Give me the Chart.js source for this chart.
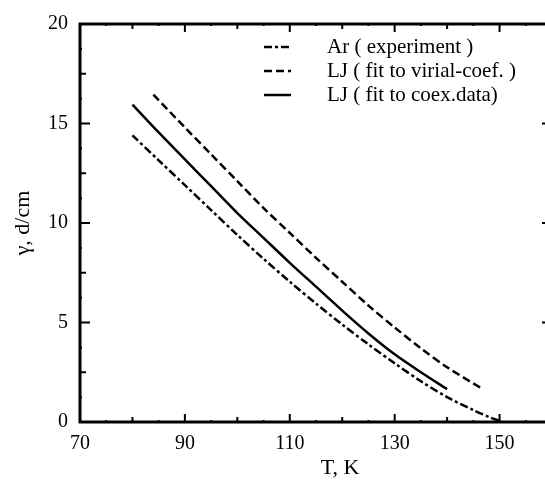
<!DOCTYPE html>
<html>
<head>
<meta charset="utf-8">
<title>Surface tension of argon</title>
<script src="https://cdn.jsdelivr.net/npm/chart.js@4/dist/chart.umd.min.js"></script>
<style>
    html, body { margin: 0; padding: 0; background: #fff; overflow: hidden; }
    #wrap { width: 560px; height: 485px; }
</style>
</head>
<body>
<div id="wrap"><canvas id="tensionChart" width="560" height="485"></canvas></div>
<script>
// ===========================
// Data
// ===========================

const xTickValues = [70, 90, 110, 130, 150];
const yTickValues = [0, 5, 10, 15, 20];

const seriesLabels = ['Ar ( experiment )', 'LJ ( fit to virial-coef. )', 'LJ ( fit to coex.data)'];

const arTemp = [80, 85, 90, 95, 100, 105, 110, 115, 120, 125, 130, 135, 140, 145, 148, 150];
const arGamma = [14.4, 13.15, 11.9, 10.65, 9.4, 8.2, 7.05, 5.95, 4.9, 3.9, 2.95, 2.05, 1.25, 0.6, 0.25, 0.05];

const ljVirialTemp = [84, 90, 95, 100, 105, 110, 115, 120, 125, 130, 135, 140, 146.5];
const ljVirialGamma = [16.45, 14.8, 13.45, 12.1, 10.75, 9.5, 8.25, 7.05, 5.85, 4.75, 3.7, 2.75, 1.7];

const ljCoexTemp = [80, 85, 90, 95, 100, 105, 110, 115, 120, 125, 130, 135, 140];
const ljCoexGamma = [15.95, 14.55, 13.2, 11.85, 10.5, 9.25, 8.0, 6.8, 5.6, 4.45, 3.4, 2.5, 1.65];

const SERIF = "'Liberation Serif', 'Times New Roman', serif";

function toPoints(xs, ys) {
    return xs.map((x, i) => ({ x: x, y: ys[i] }));
}

// ===========================
// Frame, inward ticks, x title and legend
// ===========================

const framePlugin = {
    id: 'framePlugin',
    afterDraw(chart) {
        const ctx = chart.ctx;
        const area = chart.chartArea;
        const xs = chart.scales.x;
        const ys = chart.scales.y;

        ctx.save();
        ctx.strokeStyle = '#000';
        ctx.lineWidth = 3;
        ctx.strokeRect(area.left, area.top, area.right - area.left, area.bottom - area.top);

        // x ticks on bottom and top
        ctx.lineWidth = 2;
        for (let v = xs.min; v <= xs.max; v += 5) {
            const px = xs.getPixelForValue(v);
            const off = v - xs.min;
            const len = off % 20 === 0 ? 8 : (off % 10 === 0 ? 5 : 2);
            ctx.beginPath();
            ctx.moveTo(px, area.bottom);
            ctx.lineTo(px, area.bottom - len);
            ctx.moveTo(px, area.top);
            ctx.lineTo(px, area.top + len);
            ctx.stroke();
        }

        // y ticks on left and right
        for (let v = ys.min; v <= ys.max; v += 1.25) {
            const py = ys.getPixelForValue(v);
            const len = v % 5 === 0 ? 10 : (v % 2.5 === 0 ? 6 : 2);
            ctx.beginPath();
            ctx.moveTo(area.left, py);
            ctx.lineTo(area.left + len, py);
            ctx.moveTo(area.right, py);
            ctx.lineTo(area.right - len, py);
            ctx.stroke();
        }

        // x axis title
        ctx.fillStyle = '#000';
        ctx.font = '22px ' + SERIF;
        ctx.textAlign = 'center';
        ctx.textBaseline = 'middle';
        ctx.fillText('T, K', 340, 468);

        // legend
        ctx.font = '21px ' + SERIF;
        ctx.textAlign = 'left';
        const rowsY = [47, 71, 95];
        chart.data.datasets.forEach((ds, i) => {
            const y = rowsY[i];
            ctx.lineWidth = 2.5;
            ctx.setLineDash(ds.borderDash || []);
            ctx.beginPath();
            ctx.moveTo(264, y);
            ctx.lineTo(291, y);
            ctx.stroke();
            ctx.setLineDash([]);
            ctx.fillText(ds.label, 327, y);
        });
        ctx.restore();
    }
};

// ===========================
// Chart
// ===========================

new Chart(document.getElementById('tensionChart'), {
    type: 'line',
    data: {
        datasets: [{
            label: seriesLabels[0],
            data: toPoints(arTemp, arGamma),
            borderDash: [8, 3, 3, 3]
        }, {
            label: seriesLabels[1],
            data: toPoints(ljVirialTemp, ljVirialGamma),
            borderDash: [8, 4]
        }, {
            label: seriesLabels[2],
            data: toPoints(ljCoexTemp, ljCoexGamma),
            borderDash: []
        }].map(ds => Object.assign(ds, {
            borderColor: '#000',
            borderWidth: 2.5,
            pointRadius: 0,
            fill: false,
            tension: 0.3
        }))
    },
    options: {
        responsive: false,
        animation: false,
        layout: {
            padding: { left: 0, top: 13, right: 8, bottom: 0 }
        },
        plugins: {
            legend: { display: false },
            tooltip: { enabled: false }
        },
        scales: {
            x: {
                type: 'linear',
                min: 70,
                max: 160,
                afterBuildTicks: scale => { scale.ticks = xTickValues.map(v => ({ value: v })); },
                afterFit: scale => { scale.height = 63; },
                grid: { display: false, drawTicks: false },
                border: { display: false },
                ticks: {
                    color: '#000',
                    padding: 10,
                    maxRotation: 0,
                    autoSkip: false,
                    font: { family: SERIF, size: 20 }
                }
            },
            y: {
                type: 'linear',
                min: 0,
                max: 20,
                afterBuildTicks: scale => { scale.ticks = yTickValues.map(v => ({ value: v })); },
                afterFit: scale => { scale.width = 80; },
                grid: { display: false, drawTicks: false },
                border: { display: false },
                ticks: {
                    color: '#000',
                    padding: 12,
                    autoSkip: false,
                    font: { family: SERIF, size: 20 }
                },
                title: {
                    display: true,
                    text: 'γ, d/cm',
                    color: '#000',
                    padding: { top: 10, bottom: 0 },
                    font: { family: SERIF, size: 22 }
                }
            }
        }
    },
    plugins: [framePlugin]
});
</script>
</body>
</html>
